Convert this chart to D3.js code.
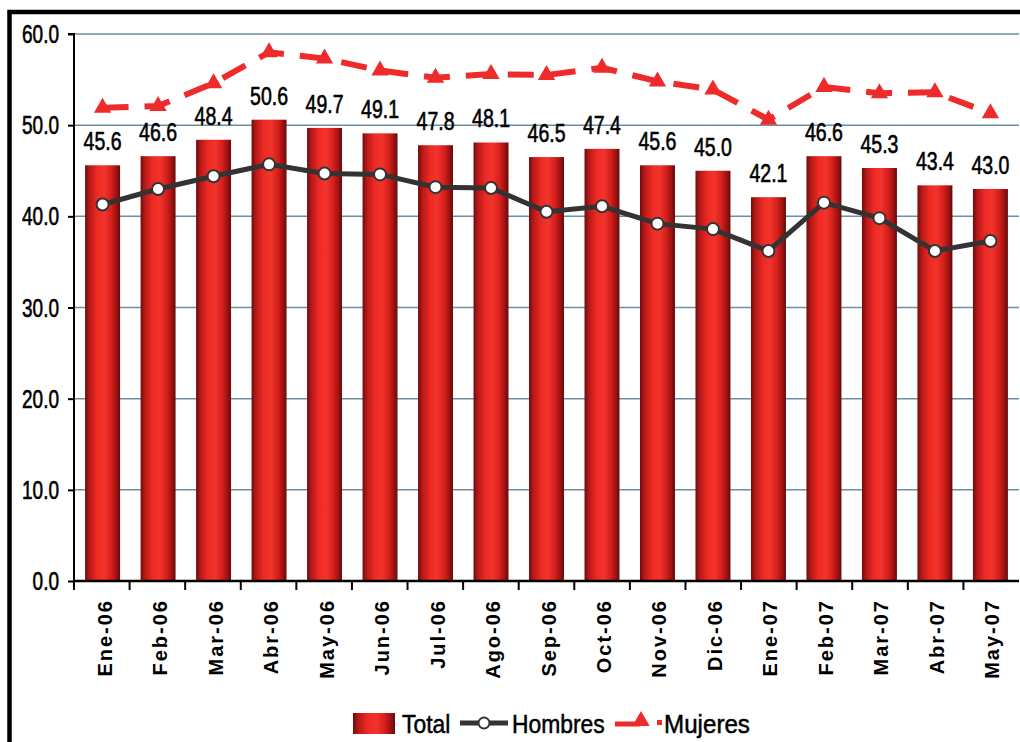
<!DOCTYPE html>
<html><head><meta charset="utf-8">
<script src="https://cdn.jsdelivr.net/npm/d3@7"></script>
<style>
html,body{margin:0;padding:0;background:#fff;}
svg{display:block;}
</style></head>
<body>
<svg id="chart" width="1020" height="742"></svg>
<script>
const categories = ["Ene-06","Feb-06","Mar-06","Abr-06","May-06","Jun-06","Jul-06","Ago-06","Sep-06","Oct-06","Nov-06","Dic-06","Ene-07","Feb-07","Mar-07","Abr-07","May-07"];
const total    = [45.6,46.6,48.4,50.6,49.7,49.1,47.8,48.1,46.5,47.4,45.6,45.0,42.1,46.6,45.3,43.4,43.0];
const hombres  = [41.3,43.0,44.4,45.7,44.7,44.6,43.2,43.1,40.5,41.1,39.2,38.6,36.2,41.5,39.8,36.2,37.3];
const mujeres  = [51.9,52.1,54.6,58.0,57.3,56.0,55.2,55.6,55.5,56.3,54.8,53.9,50.6,54.2,53.5,53.6,51.3];
const yTicks   = [0,10,20,30,40,50,60];
const legendLabels = ["Total","Hombres","Mujeres"];

const svg = d3.select("#chart");
const mLeft = 74, mRight = 1019, mTop = 34, mBottom = 581;
const FONT = "'Liberation Sans',Arial,sans-serif";

// frame
svg.append("rect").attr("x",9.5).attr("y",12).attr("width",1100).attr("height",800)
  .attr("fill","none").attr("stroke","#000").attr("stroke-width",4.5);

const defs = svg.append("defs");
const grad = defs.append("linearGradient").attr("id","barGrad").attr("x1","0").attr("x2","1").attr("y1","0").attr("y2","0");
[[0,"#6e0b0b"],[0.12,"#b51818"],[0.35,"#ee2a24"],[0.55,"#f2342c"],[0.75,"#d41f1c"],[0.9,"#9c1212"],[1,"#650909"]]
  .forEach(([o,c])=>grad.append("stop").attr("offset",o).attr("stop-color",c));

const x = d3.scaleBand().domain(categories).range([mLeft,mRight]).paddingInner(0.37).paddingOuter(0.2);
const xc = d => x(d) + x.bandwidth()/2;
const y = d3.scaleLinear().domain([0,60]).range([mBottom,mTop]);

// grid
svg.append("g").selectAll("line").data(yTicks.filter(d=>d>0)).join("line")
  .attr("x1",mLeft).attr("x2",mRight).attr("y1",d=>y(d)).attr("y2",d=>y(d))
  .attr("stroke","#6a8ea3").attr("stroke-width",1.5);

// bars
svg.append("g").selectAll("rect").data(total).join("rect")
  .attr("x",(d,i)=>x(categories[i])).attr("width",x.bandwidth())
  .attr("y",d=>y(d)).attr("height",d=>mBottom-y(d))
  .attr("fill","url(#barGrad)");

// y axis
const yAxis = d3.axisLeft(y).tickValues(yTicks).tickFormat(()=>"").tickSize(6);
const gy = svg.append("g").attr("transform",`translate(${mLeft},0)`).call(yAxis);
gy.select(".domain").attr("stroke","#000").attr("stroke-width",2).attr("d",`M-6,${mTop}H0V${mBottom}`);
gy.selectAll(".tick line").attr("stroke","#000").attr("stroke-width",2);
svg.append("g").selectAll("text").data(yTicks).join("text")
  .attr("transform",d=>`translate(${mLeft-15},${y(d)+9}) scale(0.76,1)`)
  .attr("text-anchor","end").attr("fill","#000").attr("stroke","#000").attr("stroke-width",0.6)
  .style("font-family",FONT).style("font-size","25px")
  .text(d3.format(".1f"));

// x axis
const xBounds = d3.range(categories.length+1).map(i=>mLeft + i*(mRight-mLeft)/categories.length);
svg.append("line").attr("x1",mLeft).attr("x2",mRight).attr("y1",mBottom).attr("y2",mBottom).attr("stroke","#000").attr("stroke-width",2.5);
svg.append("g").selectAll("line").data(xBounds.slice(0,-1)).join("line")
  .attr("x1",d=>d).attr("x2",d=>d).attr("y1",mBottom).attr("y2",mBottom+9).attr("stroke","#000").attr("stroke-width",2);
svg.append("g").selectAll("text").data(categories).join("text")
  .attr("transform",d=>`translate(${xc(d)+9},${mBottom+18}) rotate(-90)`)
  .attr("text-anchor","end")
  .style("font-family",FONT).style("font-size","20px").style("font-weight","bold")
  .style("letter-spacing","2px")
  .text(d=>d);

// value labels
svg.append("g").selectAll("text").data(total).join("text")
  .attr("transform",(d,i)=>`translate(${xc(categories[i])},${y(d)-15}) scale(0.78,1)`)
  .attr("text-anchor","middle")
  .style("font-family",FONT).style("font-size","25px")
  .attr("fill","#000").attr("stroke","#000").attr("stroke-width",0.6)
  .text(d=>d.toFixed(1));

// mujeres
const line = d3.line().x((d,i)=>xc(categories[i])).y(d=>y(d));
svg.append("path").datum(mujeres).attr("d",line).attr("fill","none")
  .attr("stroke","#ee2a2a").attr("stroke-width",6).attr("stroke-dasharray","26,16");
const tri = d3.symbol().type(d3.symbolTriangle).size(130);
svg.append("g").selectAll("path").data(mujeres).join("path")
  .attr("transform",(d,i)=>`translate(${xc(categories[i])},${y(d)})`)
  .attr("d",tri).attr("fill","#ee2a2a");

// hombres
svg.append("path").datum(hombres).attr("d",line).attr("fill","none")
  .attr("stroke","#333333").attr("stroke-width",5);
svg.append("g").selectAll("circle").data(hombres).join("circle")
  .attr("cx",(d,i)=>xc(categories[i])).attr("cy",d=>y(d)).attr("r",6)
  .attr("fill","#fff").attr("stroke","#333").attr("stroke-width",2);

// legend
const lg = svg.append("g");
lg.append("rect").attr("x",353).attr("y",713).attr("width",42).attr("height",21).attr("fill","url(#barGrad)");
lg.append("text").attr("transform","translate(402,733) scale(0.88,1)").text(legendLabels[0]);
lg.append("line").attr("x1",460).attr("x2",508).attr("y1",723).attr("y2",723).attr("stroke","#333").attr("stroke-width",5);
lg.append("circle").attr("cx",484).attr("cy",723).attr("r",5.5).attr("fill","#fff").attr("stroke","#333").attr("stroke-width",2);
lg.append("text").attr("transform","translate(512,733) scale(0.88,1)").text(legendLabels[1]);
lg.append("line").attr("x1",615).attr("x2",640).attr("y1",724).attr("y2",724).attr("stroke","#ee2a2a").attr("stroke-width",5);
lg.append("path").attr("transform","translate(641,721)").attr("d",tri).attr("fill","#ee2a2a");
lg.append("rect").attr("x",657).attr("y",720).attr("width",5).attr("height",5).attr("fill","#ee2a2a");
lg.append("text").attr("transform","translate(664,733) scale(0.93,1)").text(legendLabels[2]);
lg.selectAll("text").style("font-family",FONT).style("font-size","26px").attr("fill","#000").attr("stroke","#000").attr("stroke-width",0.5);
</script>
</body></html>
